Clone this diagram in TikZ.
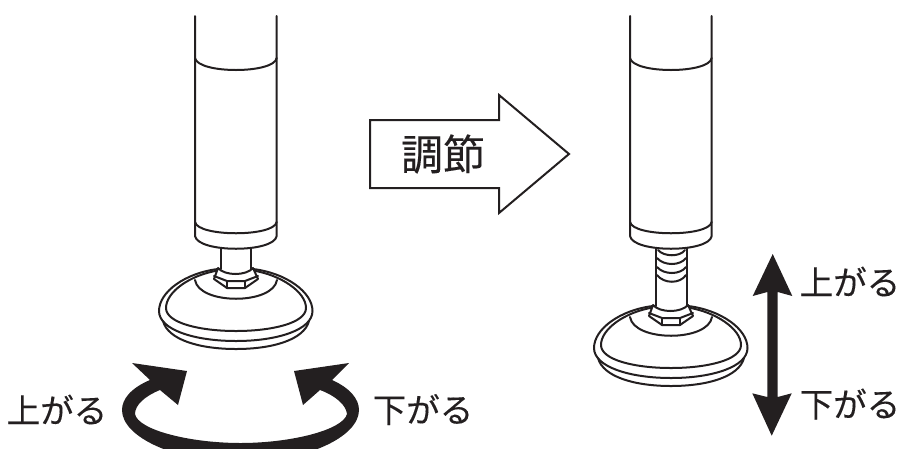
\documentclass[tikz,border=0pt]{standalone}
\usepackage{fontspec}
\newfontfamily\cjk[FakeBold=0.25]{Noto Sans CJK JP}
\definecolor{ink}{HTML}{231F20}
\tikzset{x=1pt,y=-1pt,
 ln/.style={line width=2pt,draw=ink,line join=round,line cap=round},
 txt/.style={font=\cjk\fontsize{33.5}{33.5}\selectfont,text=ink,inner sep=0pt,anchor=center}}
\newcommand{\pole}[1]{
 \draw[ln,shift={(#1,0)}] (195,16) -- (195,236) .. controls (198,253) and (274,253) .. (276.7,236) -- (276.7,16);
 \draw[ln,shift={(#1,0)}] (195,58) .. controls (198,74) and (274,74) .. (276.7,58);
 \draw[ln,shift={(#1,0)}] (195,222) .. controls (198,237) and (274,237) .. (276.7,222);
}
\newcommand{\foot}[2]{
 \begin{scope}[shift={(#1,#2)}]
 % lower ring
 \draw[ln] (163,321) .. controls (168,340) and (200,349) .. (236,349) .. controls (272,349) and (304,340) .. (309,321);
 % rim
 \draw[ln] (218,269) .. controls (185,273) and (159,292) .. (159,311) .. controls (159,330) and (195,341) .. (236,341) .. controls (277,341) and (312.5,330) .. (312.5,311) .. controls (312.5,292) and (286,273) .. (253,269);
 % dome
 \draw[ln] (218,270.5) .. controls (190,275) and (166,292) .. (166,308) .. controls (166,323) and (200,331) .. (236,331) .. controls (272,331) and (306,323) .. (306,308) .. controls (306,292) and (281,275) .. (253,270.5);
 \draw[ln] (195,280) .. controls (199,305) and (273,305) .. (277,280);
 \draw[ln,fill=white] (218,268) -- (214,279) -- (227,288) -- (245,288) -- (258,279) -- (253,268) .. controls (246,276) and (225,276) .. (218,268);
 \draw[ln] (214,276) -- (227,281) -- (245,281) -- (258,276);
 \draw[ln] (227,281) -- (227,288) (245,281) -- (245,288);
 \end{scope}
}
\begin{document}
\begin{tikzpicture}
\useasboundingbox (0,0) rectangle (901,448);
\pole{0}\pole{435}
\foot{0}{0}\foot{435}{37}
% stems
\draw[ln] (221,248) -- (221,269) (251,248) -- (251,269);
\draw[ln] (656,248) -- (656,306) (687,248) -- (687,306);
\draw[ln] (658,250) .. controls (664,257) and (680,257) .. (685,250);
\draw[ln] (657,258) .. controls (664,266) and (680,266) .. (686,258);
\draw[ln] (657,267) .. controls (664,275) and (680,275) .. (686,267);
\draw[ln] (657,275) .. controls (664,284) and (680,284) .. (686,275);
% adjust arrow
\draw[ln,line join=miter,line cap=butt] (370,120) -- (499,120) -- (499,95) -- (569,154) -- (499,213) -- (499,188) -- (370,188) -- cycle;
\node[txt,font=\cjk\fontsize{42}{42}\selectfont] (adj) at (443,154) {調節};
% rotation arrow
\begin{scope}
\clip (0,0) rectangle (901,448);
\fill[ink] (132,363) -- (187,371) -- (178,405) -- (160,390) .. controls (145,396) and (135,405) .. (135,414) .. controls (138,430) and (190,443) .. (240.5,443) .. controls (291,443) and (343,430) .. (347,414) .. controls (346,405) and (336,396) .. (320,390) -- (303,405) -- (294,371) -- (349,363) -- (332,380) .. controls (350,388) and (359,399) .. (359,410) .. controls (359,437) and (306,462) .. (240.5,462) .. controls (175,462) and (122,437) .. (122,410) .. controls (122,399) and (131,388) .. (150,380) -- cycle;
\end{scope}
% vertical arrow
\coordinate (t) at (772.7,254);
\coordinate (b) at (771.7,435.7);
\fill[ink] (t) -- (792.3,296) -- (777.7,292) -- (777.7,397) -- (791.7,393.3) -- (b) -- (752.3,393.3) -- (767.3,397) -- (767.3,292) -- (752.7,296) -- cycle;
\node[txt] (u1) at (57,409.5) {上がる};
\node[txt] (d1) at (423,409.5) {下がる};
\node[txt] (u2) at (850,281.5) {上がる};
\node[txt] (d2) at (850,404) {下がる};
\end{tikzpicture}
\end{document}
